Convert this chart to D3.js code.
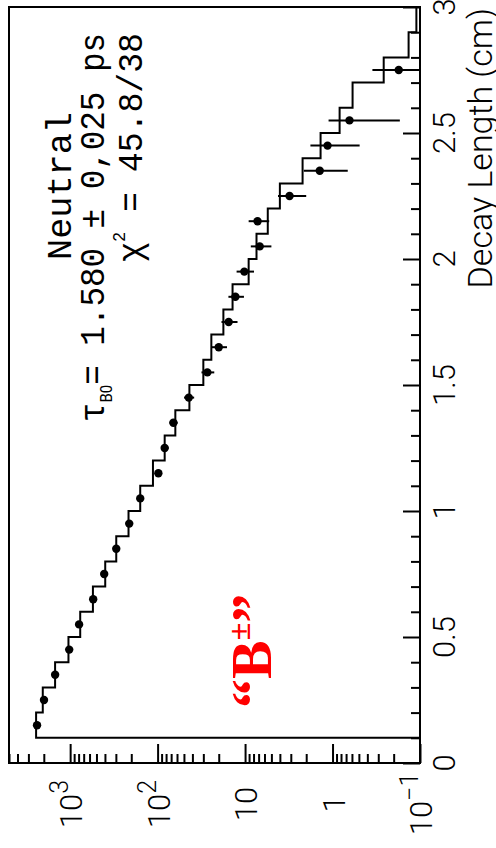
<!DOCTYPE html>
<html>
<head>
<meta charset="utf-8">
<script src="https://cdn.jsdelivr.net/npm/d3@7"></script>
<style>
  body { margin: 0; background: #fff; }
</style>
</head>
<body>
<svg id="chart" width="496" height="848"></svg>
<script>
// fitted histogram: lower bin edge (cm) and content
var binLow = [0.1, 0.2, 0.3, 0.4, 0.5, 0.6, 0.7, 0.8, 0.9, 1.0,
              1.1, 1.2, 1.3, 1.4, 1.5, 1.6, 1.7, 1.8, 1.9, 2.0,
              2.1, 2.2, 2.3, 2.4, 2.5, 2.6, 2.7, 2.8, 2.9];
var binWidth = 0.1;
var fitCounts = [2450, 2055, 1486, 1045, 767, 549, 397, 297, 215, 158,
                 113, 83, 62.7, 43.3, 30, 24.3, 17.7, 13.9, 9.1, 7.4,
                 5.5, 4.0, 2.2, 1.37, 0.83, 0.59, 0.26, 0.135, 0.11];

// data points: bin centre (cm), counts, error
var pointPos = [0.15, 0.25, 0.35, 0.45, 0.55, 0.65, 0.75, 0.85, 0.95, 1.05,
                1.15, 1.25, 1.35, 1.45, 1.55, 1.65, 1.75, 1.85, 1.95, 2.05,
                2.15, 2.25, 2.35, 2.45, 2.55, 2.75];
var pointCounts = [2390, 1990, 1485, 1025, 790, 545, 408, 297, 211, 158,
                   98, 83, 66, 44, 27, 20, 15.4, 12.9, 10.2, 6.8,
                   7.2, 3.1, 1.4, 1.14, 0.64, 0.175];
var pointErrors = [43, 39, 34, 28, 25, 21, 18, 15, 13, 11,
                   9, 8, 7, 5.8, 4.5, 3.9, 3.2, 2.6, 2.3, 1.8,
                   1.9, 1.1, 0.73, 0.65, 0.47, 0.175];

// axis labels
var lengthTicks = [0, 0.5, 1, 1.5, 2, 2.5, 3];
var lengthTickLabels = ["0", "0.5", "1", "1.5", "2", "2.5", "3"];
var countTicks = [1000, 100, 10, 1, 0.1];
var countTickBase = ["10", "10", "10", "1", "10"];
var countTickExp = ["3", "2", "", "", "\u22121"];

var svg = d3.select("#chart");
svg.append("rect").attr("width", 496).attr("height", 848).attr("fill", "#fff");

// plot is drawn turned: decay length runs up the page, counts run right-to-left
var len = d3.scaleLinear().domain([0, 3]).range([763, 7]);
var cnt = d3.scaleLog().domain([0.1, 5000]).range([420, 9]);

function rot(x, y) { return "translate(" + x + "," + y + ") rotate(-90)"; }

var sans = "Roboto, 'Liberation Sans', sans-serif";
var mono = "'Liberation Mono', 'DejaVu Sans Mono', monospace";

// ticks on the decay length axis (right side, pointing in)
var minorLen = len.ticks(30).filter(d => Math.abs(d * 2 - Math.round(d * 2)) > 1e-6);
svg.append("g").attr("transform", "translate(420,0)")
    .call(d3.axisLeft(len).tickValues(minorLen).tickSize(9).tickFormat(""))
    .call(g => g.select(".domain").remove())
    .selectAll("line").attr("stroke", "#000").attr("stroke-width", 2);
svg.append("g").attr("transform", "translate(420,0)")
    .call(d3.axisLeft(len).tickValues(lengthTicks).tickSize(17).tickFormat(""))
    .call(g => g.select(".domain").remove())
    .selectAll("line").attr("stroke", "#000").attr("stroke-width", 2);

// ticks on the log count axis (bottom, pointing in)
var minorCnt = cnt.ticks().filter(d => countTicks.indexOf(d) < 0);
svg.append("g").attr("transform", "translate(0,763)")
    .call(d3.axisTop(cnt).tickValues(minorCnt).tickSize(9).tickFormat(""))
    .call(g => g.select(".domain").remove())
    .selectAll("line").attr("stroke", "#000").attr("stroke-width", 2);
svg.append("g").attr("transform", "translate(0,763)")
    .call(d3.axisTop(cnt).tickValues(countTicks).tickSize(19).tickFormat(""))
    .call(g => g.select(".domain").remove())
    .selectAll("line").attr("stroke", "#000").attr("stroke-width", 2);

// frame
svg.append("rect").attr("x", 9).attr("y", 7).attr("width", 411).attr("height", 756)
    .attr("fill", "none").attr("stroke", "#000").attr("stroke-width", 2);

// decay length labels
svg.selectAll("text.lenlab").data(lengthTicks).enter().append("text")
    .attr("class", "lenlab")
    .attr("transform", d => rot(455, len(d)))
    .attr("text-anchor", "middle")
    .attr("font-family", sans).attr("font-weight", 300).attr("font-size", 31)
    .text((d, i) => lengthTickLabels[i]);

// count labels
var cl = svg.selectAll("text.cntlab").data(countTicks).enter().append("text")
    .attr("class", "cntlab")
    .attr("transform", d => rot(cnt(d) + 12, 804))
    .attr("text-anchor", "middle")
    .attr("font-family", sans).attr("font-weight", 300).attr("font-size", 31);
cl.append("tspan").text((d, i) => countTickBase[i]);
cl.append("tspan").attr("font-size", 25).attr("dy", -14).text((d, i) => countTickExp[i]);

// axis title
svg.append("text").attr("transform", rot(492, 8))
    .attr("text-anchor", "end")
    .attr("font-family", sans).attr("font-weight", 300).attr("font-size", 34)
    .text("Decay Length (cm)");

// fitted histogram as a step line
var steps = [[cnt.domain()[0], binLow[0]]];
binLow.forEach(function (b, i) {
    steps.push([fitCounts[i], b]);
    steps.push([fitCounts[i], b + binWidth]);
});
svg.append("path")
    .attr("d", d3.line().x(d => cnt(d[0])).y(d => len(d[1]))(steps))
    .attr("fill", "none").attr("stroke", "#000").attr("stroke-width", 2);

// error bars and points
var pts = pointPos.map((p, i) => ({ p: p, v: pointCounts[i], e: pointErrors[i] }));
svg.selectAll("line.err").data(pts).enter().append("line")
    .attr("class", "err")
    .attr("x1", d => cnt(d.v + d.e))
    .attr("x2", d => cnt(Math.max(d.v - d.e, 0.1)))
    .attr("y1", d => len(d.p)).attr("y2", d => len(d.p))
    .attr("stroke", "#000").attr("stroke-width", 2);
svg.selectAll("circle.pt").data(pts).enter().append("circle")
    .attr("class", "pt")
    .attr("cx", d => cnt(d.v)).attr("cy", d => len(d.p))
    .attr("r", 4.2).attr("fill", "#000");

// fit results
svg.append("text").attr("transform", rot(71, 260))
    .attr("font-family", mono).attr("font-size", 35)
    .attr("textLength", 148).attr("lengthAdjust", "spacingAndGlyphs")
    .text("Neutral");

var tau = svg.append("text").attr("transform", rot(104, 422))
    .attr("font-family", mono).attr("font-size", 35)
    .attr("textLength", 389).attr("lengthAdjust", "spacingAndGlyphs");
tau.append("tspan").text("\u03c4");
tau.append("tspan").attr("font-family", sans).attr("font-size", 16).attr("dy", 8).text("B0");
tau.append("tspan").attr("dy", -8).text("= 1.580 \u00b1 0,025 ps");

var chi = svg.append("text").attr("transform", rot(142, 262))
    .attr("font-family", mono).attr("font-size", 35)
    .attr("textLength", 229).attr("lengthAdjust", "spacingAndGlyphs");
chi.append("tspan").text("\u03c7");
chi.append("tspan").attr("font-size", 18).attr("dy", -17).text("2");
chi.append("tspan").attr("dy", 17).text(" = 45.8/38");

// sample label
var lab = svg.append("text").attr("transform", rot(271, 708))
    .attr("font-family", "'Liberation Serif', 'Times New Roman', serif")
    .attr("font-weight", "bold").attr("font-size", 58).attr("fill", "#ff0000");
lab.append("tspan").text("\u201cB");
lab.append("tspan").attr("font-size", 32).attr("dy", -21).text("\u00b1");
lab.append("tspan").attr("dy", 21).text("\u201d");
</script>
</body>
</html>
